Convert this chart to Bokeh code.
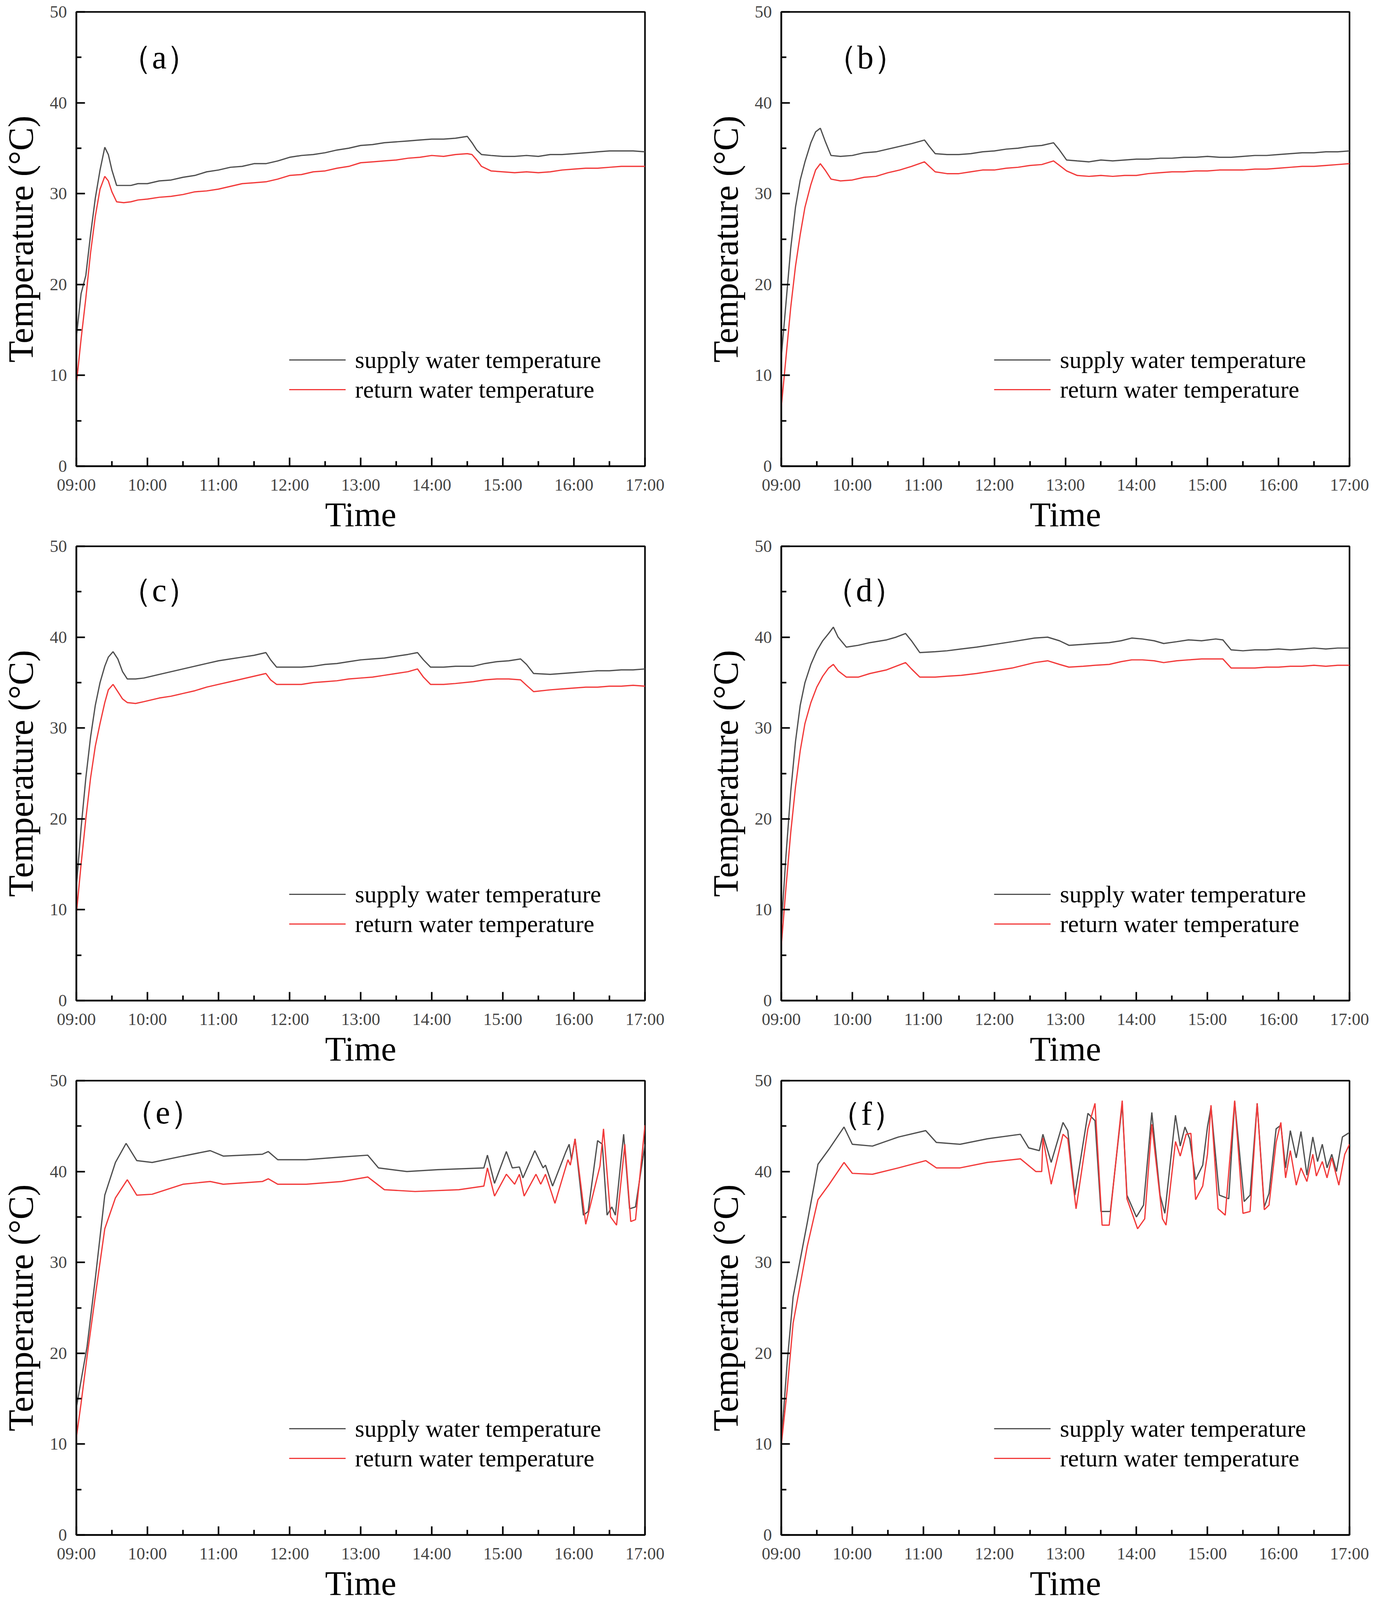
from bokeh.plotting import figure
from bokeh.layouts import gridplot
from bokeh.models import FixedTicker, Legend, LegendItem, Label
from bokeh.embed import file_html
from bokeh.resources import INLINE

# x axis is minutes after 09:00
hour_ticks = [0, 60, 120, 180, 240, 300, 360, 420, 480]
hour_labels = ["09:00", "10:00", "11:00", "12:00", "13:00", "14:00", "15:00", "16:00", "17:00"]
half_hours = [30, 90, 150, 210, 270, 330, 390, 450]
temp_ticks = [0, 10, 20, 30, 40, 50]
temp_minor = [5, 15, 25, 35, 45]

# (a)
a_time = [0, 4, 8, 12, 16, 20, 24, 27, 30, 34, 40, 46, 52, 60,
          70, 80, 90, 100, 110, 120, 130, 140, 150, 160, 170, 180, 190, 200,
          210, 220, 230, 240, 250, 260, 270, 280, 290, 300, 310, 320, 330,
          334, 338, 342, 350, 360, 370, 380, 390, 400, 410, 420, 430, 440,
          450, 460, 470, 480]
a_supply = [14.2, 19.0, 21.0, 25.5, 29.5, 32.6, 35.1, 34.3, 32.6, 30.9, 30.9, 30.9, 31.1, 31.1,
            31.4, 31.5, 31.8, 32.0, 32.4, 32.6, 32.9, 33.0, 33.3, 33.3, 33.6, 34.0, 34.2, 34.3,
            34.5, 34.8, 35.0, 35.3, 35.4, 35.6, 35.7, 35.8, 35.9, 36.0, 36.0, 36.1, 36.3,
            35.6, 34.8, 34.3, 34.2, 34.1, 34.1, 34.2, 34.1, 34.3, 34.3, 34.4, 34.5, 34.6,
            34.7, 34.7, 34.7, 34.6]
a_return = [9.0, 14.0, 18.5, 23.5, 27.5, 30.5, 31.9, 31.4, 30.2, 29.1, 29.0, 29.1, 29.3, 29.4,
            29.6, 29.7, 29.9, 30.2, 30.3, 30.5, 30.8, 31.1, 31.2, 31.3, 31.6, 32.0, 32.1, 32.4,
            32.5, 32.8, 33.0, 33.4, 33.5, 33.6, 33.7, 33.9, 34.0, 34.2, 34.1, 34.3, 34.4,
            34.3, 33.7, 33.0, 32.5, 32.4, 32.3, 32.4, 32.3, 32.4, 32.6, 32.7, 32.8, 32.8,
            32.9, 33.0, 33.0, 33.0]

# (b)
b_time = [0, 4, 8, 12, 16, 20, 25, 29, 33, 37, 42, 50, 60, 70, 80, 90, 100, 110, 121, 125,
          130, 140, 150, 160, 170, 180, 190, 200, 210, 220, 230, 235, 241,
          250, 260, 270, 280, 290, 300, 310, 320, 330, 340, 350, 360, 370, 380, 390, 400,
          410, 420, 430, 440, 450, 460, 470, 480]
b_supply = [12.0, 18.0, 24.0, 28.5, 31.5, 33.5, 35.6, 36.8, 37.2, 35.8, 34.2, 34.1, 34.2, 34.5,
            34.6, 34.9, 35.2, 35.5, 35.9, 35.2, 34.4, 34.3, 34.3, 34.4, 34.6, 34.7, 34.9, 35.0,
            35.2, 35.3, 35.6, 34.8, 33.7,
            33.6, 33.5, 33.7, 33.6, 33.7, 33.8, 33.8, 33.9, 33.9, 34.0, 34.0, 34.1, 34.0, 34.0,
            34.1, 34.2, 34.2, 34.3, 34.4, 34.5, 34.5, 34.6, 34.6, 34.7]
b_return = [6.5, 12.0, 17.5, 22.0, 25.5, 28.5, 31.0, 32.6, 33.3, 32.6, 31.6, 31.4, 31.5, 31.8,
            31.9, 32.3, 32.6, 33.0, 33.5, 33.0, 32.4, 32.2, 32.2, 32.4, 32.6, 32.6, 32.8, 32.9,
            33.1, 33.2, 33.6, 33.1, 32.5,
            32.0, 31.9, 32.0, 31.9, 32.0, 32.0, 32.2, 32.3, 32.4, 32.4, 32.5, 32.5, 32.6, 32.6,
            32.6, 32.7, 32.7, 32.8, 32.9, 33.0, 33.0, 33.1, 33.2, 33.3]

# (c)
c_time = [0, 4, 8, 12, 16, 20, 24, 27, 31, 35, 39, 43, 50, 57, 70, 80, 90, 100, 110, 120,
          130, 140, 150, 160, 164, 169, 180, 190, 200, 210, 220, 230, 240, 250, 260, 270,
          280, 288, 293, 299, 310, 320, 335, 345, 355, 365, 375, 380, 386, 400,
          410, 420, 430, 440, 450, 460, 470, 480]
c_supply = [12.5, 19.0, 24.5, 29.0, 32.5, 35.0, 36.8, 37.8, 38.4, 37.6, 36.2, 35.4, 35.4, 35.5,
            35.9, 36.2, 36.5, 36.8, 37.1, 37.4, 37.6, 37.8, 38.0, 38.3, 37.5, 36.7, 36.7, 36.7,
            36.8, 37.0, 37.1, 37.3, 37.5, 37.6, 37.7, 37.9, 38.1, 38.3, 37.5, 36.7,
            36.7, 36.8, 36.8, 37.1, 37.3, 37.4, 37.6, 37.0, 36.0, 35.9,
            36.0, 36.1, 36.2, 36.3, 36.3, 36.4, 36.4, 36.5]
c_return = [9.5, 15.0, 20.0, 24.5, 28.0, 30.5, 32.8, 34.2, 34.8, 34.0, 33.2, 32.8, 32.7, 32.9,
            33.3, 33.5, 33.8, 34.1, 34.5, 34.8, 35.1, 35.4, 35.7, 36.0, 35.3, 34.8, 34.8, 34.8,
            35.0, 35.1, 35.2, 35.4, 35.5, 35.6, 35.8, 36.0, 36.2, 36.5, 35.6, 34.8,
            34.8, 34.9, 35.1, 35.3, 35.4, 35.4, 35.3, 34.7, 34.0, 34.2,
            34.3, 34.4, 34.5, 34.5, 34.6, 34.6, 34.7, 34.6]

# (d)
d_time = [0, 4, 8, 12, 16, 20, 25, 30, 35, 40, 44, 48, 55, 65, 75, 89, 97, 105, 110, 117,
          130, 140, 152, 165, 180, 195, 214, 225, 235, 243, 255, 265, 277, 287, 296, 305,
          315, 323, 334, 344, 355, 367, 373, 380, 390, 400, 410, 420, 430, 440,
          450, 460, 470, 480]
d_supply = [8.0, 16.0, 23.0, 28.5, 32.5, 35.0, 37.0, 38.5, 39.6, 40.4, 41.1, 40.0, 38.9, 39.1,
            39.4, 39.7, 40.0, 40.4, 39.6, 38.3, 38.4, 38.5, 38.7, 38.9, 39.2, 39.5, 39.9, 40.0,
            39.6, 39.1, 39.2, 39.3, 39.4, 39.6, 39.9, 39.8, 39.6, 39.3, 39.5, 39.7,
            39.6, 39.8, 39.7, 38.6, 38.5, 38.6, 38.6, 38.7, 38.6, 38.7,
            38.8, 38.7, 38.8, 38.8]
d_return = [6.0, 12.5, 18.5, 23.5, 27.5, 30.5, 32.8, 34.5, 35.7, 36.6, 37.0, 36.3, 35.6, 35.6,
            36.0, 36.4, 36.8, 37.2, 36.5, 35.6, 35.6, 35.7, 35.8, 36.0, 36.3, 36.6, 37.2, 37.4,
            37.0, 36.7, 36.8, 36.9, 37.0, 37.3, 37.5, 37.5, 37.4, 37.2, 37.4, 37.5,
            37.6, 37.6, 37.6, 36.6, 36.6, 36.6, 36.7, 36.7, 36.8, 36.8,
            36.9, 36.8, 36.9, 36.9]

# (e)
e_sup_time = [0, 4, 9, 16, 24, 33, 42, 51, 64, 90, 113, 124, 157, 162, 170, 194, 224, 246,
              255, 279, 305, 344, 347, 353, 363, 368, 374, 377, 387, 394, 396, 402, 413,
              416, 418, 421, 428, 432, 440, 444, 448, 452, 455, 462, 467, 472, 480]
e_supply = [14.0, 17.0, 20.7, 28.2, 37.4, 41.0, 43.1, 41.2, 41.0, 41.7, 42.3, 41.7, 41.9, 42.2,
            41.3, 41.3, 41.6, 41.8, 40.4, 40.0, 40.2, 40.4, 41.8, 38.7, 42.2, 40.4, 40.5, 39.3,
            42.3, 40.4, 40.7, 38.4, 42.1, 43.0, 41.3, 43.6, 35.2, 35.6, 43.4, 43.0, 35.2, 36.1,
            35.2, 44.1, 35.9, 36.1, 43.0]
e_ret_time = [0, 4, 9, 16, 24, 33, 43, 51, 64, 90, 113, 124, 157, 162, 170, 194, 224, 246,
              260, 286, 323, 344, 347, 353, 363, 370, 374, 378, 388, 392, 396, 404, 415,
              417, 421, 430, 442, 445, 451, 456, 463, 468, 472, 480]
e_return = [10.7, 14.5, 19.6, 26.3, 33.7, 37.1, 39.1, 37.4, 37.5, 38.6, 38.9, 38.6, 38.9, 39.2,
            38.6, 38.6, 38.9, 39.4, 38.0, 37.8, 38.0, 38.4, 40.4, 37.3, 39.7, 38.6, 39.7, 37.3,
            39.7, 38.6, 39.7, 36.5, 41.3, 40.7, 43.6, 34.2, 40.6, 44.7, 35.0, 34.1, 43.0, 34.5,
            34.7, 45.1]

# (f)
f_sup_time = [0, 5, 10, 22, 31, 40, 53, 60, 77, 99, 122, 131, 151, 174, 202, 209, 218, 221,
              228, 238, 242, 248, 259, 265, 270, 278, 288, 292, 300, 306, 313, 320, 324, 333,
              337, 341, 345, 350, 356, 360, 363, 370, 378, 383, 391, 396, 402, 408, 412, 418,
              422, 426, 430, 435, 439, 444, 449, 453, 457, 461, 465, 469, 474, 480]
f_supply = [10.2, 19.0, 26.2, 34.4, 40.8, 42.4, 44.9, 43.0, 42.8, 43.8, 44.5, 43.2, 43.0, 43.6,
            44.1, 42.6, 42.3, 44.1, 41.0, 45.4, 44.5, 37.4, 46.4, 45.6, 35.6, 35.6, 47.4, 37.4,
            35.0, 36.3, 46.5, 37.4, 35.4, 46.2, 42.8, 44.9, 43.6, 39.1, 40.7, 44.9, 47.1, 37.4,
            37.0, 47.7, 36.7, 37.4, 47.5, 36.1, 37.6, 44.7, 45.1, 40.4, 44.5, 41.5, 44.4, 39.6,
            43.8, 41.1, 43.0, 40.4, 41.9, 40.0, 43.8, 44.3]
f_ret_time = [0, 5, 10, 22, 31, 40, 53, 60, 77, 99, 122, 131, 151, 174, 202, 215, 220, 221,
              228, 238, 242, 249, 259, 265, 271, 277, 288, 292, 301, 307, 313, 322, 325, 333,
              337, 342, 346, 350, 356, 360, 363, 369, 375, 383, 390, 396, 402, 408, 412, 418,
              422, 426, 430, 435, 439, 444, 449, 452, 457, 461, 465, 471, 476, 480]
f_return = [9.9, 16.0, 23.3, 31.8, 36.9, 38.5, 41.0, 39.8, 39.7, 40.4, 41.2, 40.4, 40.4, 41.0,
            41.4, 40.0, 40.0, 43.7, 38.6, 44.1, 43.6, 35.9, 44.7, 47.5, 34.1, 34.1, 47.8, 37.0,
            33.7, 34.8, 45.2, 34.8, 34.1, 43.3, 41.7, 44.1, 44.2, 36.9, 38.4, 41.9, 47.3, 35.9,
            35.2, 47.8, 35.4, 35.6, 47.5, 35.8, 36.3, 43.2, 45.4, 39.3, 42.3, 38.5, 40.4, 38.9,
            41.9, 39.5, 41.1, 39.3, 41.5, 38.5, 41.9, 43.0]

SERIF = "Liberation Serif"
SUPPLY_COLOR = "#4f4f4f"
RETURN_COLOR = "#f23a3a"


def make_panel(tag, tag_x, tag_y, sup_t, sup_v, ret_t, ret_v, width, right_border):
    p = figure(width=width, height=1368, x_range=(0, 480), y_range=(0, 50),
               output_backend="svg", toolbar_location=None,
               min_border_left=192, min_border_right=right_border,
               min_border_top=30, min_border_bottom=150)
    p.grid.visible = False
    p.outline_line_color = "black"
    p.outline_line_width = 4

    p.xaxis.ticker = FixedTicker(ticks=hour_ticks, minor_ticks=half_hours)
    p.xaxis.major_label_overrides = dict(zip(hour_ticks, hour_labels))
    p.yaxis.ticker = FixedTicker(ticks=temp_ticks, minor_ticks=temp_minor)

    for ax in (p.xaxis, p.yaxis):
        ax.axis_line_width = 4
        ax.axis_line_color = "black"
        ax.major_tick_line_width = 4
        ax.minor_tick_line_width = 4
        ax.major_tick_in = 22
        ax.major_tick_out = 0
        ax.minor_tick_in = 13
        ax.minor_tick_out = 0
        ax.major_label_text_font = SERIF
        ax.major_label_text_font_size = "44px"
        ax.major_label_text_color = "#444444"
        ax.axis_label_text_font = SERIF
        ax.axis_label_text_font_style = "normal"
        ax.axis_label_text_color = "black"

    p.xaxis.axis_label = "Time"
    p.xaxis.axis_label_text_font_size = "88px"
    p.xaxis.major_label_standoff = 23
    p.xaxis.axis_label_standoff = 0
    p.yaxis.axis_label = "Temperature (°C)"
    p.yaxis.axis_label_text_font_size = "90px"
    p.yaxis.major_label_standoff = 24
    p.yaxis.axis_label_standoff = 22

    r_sup = p.line(sup_t, sup_v, line_color=SUPPLY_COLOR, line_width=3.2)
    r_ret = p.line(ret_t, ret_v, line_color=RETURN_COLOR, line_width=3.2)

    legend = Legend(items=[LegendItem(label="supply water temperature", renderers=[r_sup]),
                           LegendItem(label="return water temperature", renderers=[r_ret])],
                    location=(545, 158), orientation="vertical",
                    glyph_width=145, glyph_height=76, label_height=76,
                    label_standoff=24, spacing=0, padding=0, margin=0,
                    label_text_font=SERIF, label_text_font_size="62px",
                    label_text_color="black",
                    background_fill_alpha=0, border_line_alpha=0)
    p.add_layout(legend)

    # full-width brackets fall back to a CJK font, the letter stays serif
    p.add_layout(Label(x=tag_x, y=tag_y, text=tag, text_font=SERIF,
                       text_font_size="84px", text_align="center",
                       text_baseline="middle", text_color="black"))
    return p


pa = make_panel("（a）", 70, 45.0, a_time, a_supply, a_time, a_return, 1805, 154)
pb = make_panel("（b）", 71, 45.0, b_time, b_supply, b_time, b_return, 1710, 60)
pc = make_panel("（c）", 70, 45.2, c_time, c_supply, c_time, c_return, 1805, 154)
pd = make_panel("（d）", 70, 45.2, d_time, d_supply, d_time, d_return, 1710, 60)
pe = make_panel("（e）", 73, 46.5, e_sup_time, e_supply, e_ret_time, e_return, 1805, 154)
pf = make_panel("（f）", 72, 46.4, f_sup_time, f_supply, f_ret_time, f_return, 1710, 60)

grid = gridplot([[pa, pb], [pc, pd], [pe, pf]], toolbar_location=None)

open("out.html", "w").write(file_html(grid, INLINE))
